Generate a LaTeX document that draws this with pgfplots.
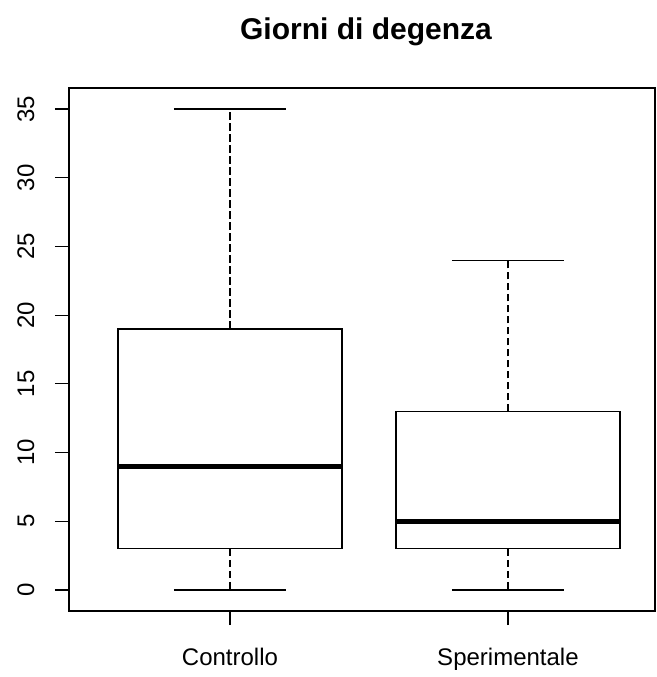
\documentclass[border=0pt]{standalone}
\usepackage{fontspec}
\setmainfont{Liberation Sans}
\usepackage{pgfplots}
\pgfplotsset{compat=1.18}
\usepgfplotslibrary{statistics}
\begin{document}
\begin{tikzpicture}
\path[use as bounding box] (0,0) rectangle (657bp,677bp);
\begin{axis}[
 at={(69bp,66bp)}, anchor=south west,
 scale only axis, width=586bp, height=523bp,
 xmin=0.421, xmax=2.529, ymin=-1.53, ymax=36.53,
 xtick={1,2}, xticklabels={Controllo,Sperimentale},
 ytick={0,5,...,35},
 tick align=outside, major tick length=14bp,
 xtick pos=bottom, ytick pos=left,
 axis line style={line width=1.1bp},
 every tick/.style={black, line width=1.1bp},
 tick label style={font=\fontsize{24bp}{24bp}\selectfont, black},
 yticklabel style={rotate=90, anchor=south},
 yticklabel shift=17bp,
 xticklabel shift=20bp,
 /pgf/number format/assume math mode=true,
 title={Giorni di degenza},
 title style={font=\fontsize{30bp}{30bp}\selectfont\bfseries, at={(0.5,1)}, anchor=base, yshift=43bp, xshift=4bp},
 boxplot/draw direction=y,
 boxplot/box extend=0.806,
 boxplot/whisker extend=0.403,
 boxplot/every box/.style={line width=1.3bp},
 boxplot/every median/.style={line width=4.5bp},
 boxplot/draw/lower whisker/.code={
   \draw[line width=1.1bp, dash pattern=on 7.5bp off 3.5bp]
     (boxplot box cs:\pgfplotsboxplotvalue{lower quartile},0.5) --
     (boxplot box cs:\pgfplotsboxplotvalue{lower whisker},0.5);
   \draw[line width=1.1bp]
     (boxplot whisker cs:\pgfplotsboxplotvalue{lower whisker},0) --
     (boxplot whisker cs:\pgfplotsboxplotvalue{lower whisker},1);
 },
 boxplot/draw/upper whisker/.code={
   \draw[line width=1.1bp, dash pattern=on 7.5bp off 3.5bp]
     (boxplot box cs:\pgfplotsboxplotvalue{upper quartile},0.5) --
     (boxplot box cs:\pgfplotsboxplotvalue{upper whisker},0.5);
   \draw[line width=1.1bp]
     (boxplot whisker cs:\pgfplotsboxplotvalue{upper whisker},0) --
     (boxplot whisker cs:\pgfplotsboxplotvalue{upper whisker},1);
 },
]
\addplot[black, boxplot prepared={draw position=1,
  lower whisker=0, lower quartile=3, median=9, upper quartile=19, upper whisker=35}]
  coordinates {};
\addplot[black, boxplot prepared={draw position=2,
  lower whisker=0, lower quartile=3, median=5, upper quartile=13, upper whisker=24}]
  coordinates {};
\end{axis}
\end{tikzpicture}
\end{document}
